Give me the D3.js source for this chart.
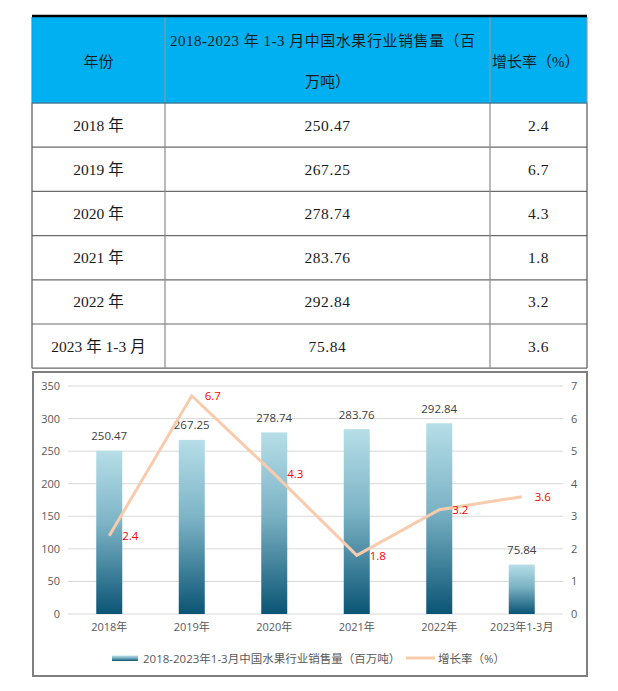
<!DOCTYPE html>
<html>
<head>
<meta charset="utf-8">
<script src="https://cdn.jsdelivr.net/npm/d3@7"></script>
<style>
  body { margin: 0; background: #fff; }
</style>
</head>
<body>
<div id="plot"></div>
<script>
// data
const tableYears = ["2018 年", "2019 年", "2020 年", "2021 年", "2022 年", "2023 年 1-3 月"];
const chartYears = ["2018年", "2019年", "2020年", "2021年", "2022年", "2023年1-3月"];
const sales = [250.47, 267.25, 278.74, 283.76, 292.84, 75.84];
const growth = [2.4, 6.7, 4.3, 1.8, 3.2, 3.6];
const salesTicks = [0, 50, 100, 150, 200, 250, 300, 350];
const growthTicks = [0, 1, 2, 3, 4, 5, 6, 7];
const headers = ["年份", "2018-2023 年 1-3 月中国水果行业销售量（百", "增长率（%）"];
const seriesNames = ["2018-2023年1-3月中国水果行业销售量（百万吨）", "增长率（%）"];

const w = 618;
const h = 691;
const serif = "'Liberation Serif', 'Noto Sans CJK SC', serif";
const sans = "'Open Sans', 'Noto Sans CJK SC', sans-serif";

const svg = d3.select("div#plot")
  .append("svg")
    .attr("width", w)
    .attr("height", h);

// ---------- table ----------
const colX = [32, 165, 490, 587];
const headTop = 17, headBottom = 103, rowH = 44.2;
const tableBottom = headBottom + rowH * tableYears.length;

const table = svg.append("g");

table.append("rect")
    .attr("x", colX[0])
    .attr("y", headTop)
    .attr("width", colX[3] - colX[0])
    .attr("height", headBottom - headTop)
    .attr("fill", "#00b0f0");

// rows
const rows = table.selectAll("g.row")
  .data(d3.range(tableYears.length))
  .join("g")
    .attr("class", "row")
    .attr("transform", i => `translate(0, ${headBottom + rowH * i})`);

rows.append("line")
    .attr("x1", colX[0]).attr("x2", colX[3])
    .attr("y1", rowH).attr("y2", rowH)
    .attr("stroke", "#6b6b6b")
    .attr("stroke-width", 1.2);

const cellText = [i => tableYears[i], i => sales[i].toFixed(2), i => growth[i].toFixed(1)];
cellText.forEach((f, c) => {
  rows.append("text")
      .attr("x", (colX[c] + colX[c + 1]) / 2)
      .attr("y", rowH / 2)
      .attr("text-anchor", "middle")
      .attr("dominant-baseline", "central")
      .attr("font-family", serif)
      .attr("font-size", 15.5)
      .attr("letter-spacing", c === 0 ? 0 : 0.6)
      .attr("fill", "#1a1a1a")
      .text(f);
});

// vertical lines
colX.forEach((x, c) => {
  table.append("line")
      .attr("x1", x).attr("x2", x)
      .attr("y1", headTop).attr("y2", headBottom)
      .attr("stroke", c === 0 ? "#00a6e6" : "#8a9aa3")
      .attr("stroke-width", 1.2);
  table.append("line")
      .attr("x1", x).attr("x2", x)
      .attr("y1", headBottom).attr("y2", tableBottom)
      .attr("stroke", c === 0 || c === 3 ? "#555" : "#8a8a8a")
      .attr("stroke-width", 1.2);
});

// header borders
table.append("line")
    .attr("x1", colX[0]).attr("x2", colX[3])
    .attr("y1", headTop - 1).attr("y2", headTop - 1)
    .attr("stroke", "#000")
    .attr("stroke-width", 2.5);
table.append("line")
    .attr("x1", colX[0]).attr("x2", colX[3])
    .attr("y1", headBottom).attr("y2", headBottom)
    .attr("stroke", "#3f7f9a")
    .attr("stroke-width", 1.5);

// header text
const headStyle = sel => sel
    .attr("font-family", serif)
    .attr("font-size", 15)
    .attr("fill", "#1a1a1a")
    .attr("dominant-baseline", "central");

table.append("text").call(headStyle)
    .attr("x", (colX[0] + colX[1]) / 2)
    .attr("y", 62)
    .attr("text-anchor", "middle")
    .text(headers[0]);
table.append("text").call(headStyle)
    .attr("x", 170)
    .attr("y", 41)
    .attr("textLength", 305)
    .text(headers[1]);
table.append("text").call(headStyle)
    .attr("x", (colX[1] + colX[2]) / 2)
    .attr("y", 82)
    .attr("text-anchor", "middle")
    .text("万吨）");
table.append("text").call(headStyle)
    .attr("x", 492)
    .attr("y", 62)
    .text(headers[2]);

// ---------- chart ----------
const chart = svg.append("g");

chart.append("rect")
    .attr("x", 33)
    .attr("y", 372)
    .attr("width", 554)
    .attr("height", 304)
    .attr("fill", "#fff")
    .attr("stroke", "#7f7f7f")
    .attr("stroke-width", 2);

const plot = {left: 68, right: 563, top: 386, bottom: 614};

const xScale = d3.scaleBand()
    .domain(d3.range(chartYears.length))
    .range([plot.left, plot.right]);

const yLeft = d3.scaleLinear()
    .domain([0, 350])
    .range([plot.bottom, plot.top]);

const yRight = d3.scaleLinear()
    .domain([0, 7])
    .range([plot.bottom, plot.top]);

const defs = svg.append("defs");
const grad = defs.append("linearGradient")
    .attr("id", "barGrad")
    .attr("x1", 0).attr("y1", 0)
    .attr("x2", 0).attr("y2", 1);
grad.append("stop").attr("offset", "0%").attr("stop-color", "#b6dee8");
grad.append("stop").attr("offset", "45%").attr("stop-color", "#7cb3c5");
grad.append("stop").attr("offset", "100%").attr("stop-color", "#0a5474");

// gridlines
chart.append("g")
  .selectAll("line")
  .data(salesTicks)
  .join("line")
    .attr("x1", plot.left)
    .attr("x2", plot.right)
    .attr("y1", d => yLeft(d))
    .attr("y2", d => yLeft(d))
    .attr("stroke", "#d9d9d9")
    .attr("stroke-width", 1);

const yAxisL = d3.axisLeft(yLeft).tickValues(salesTicks).tickSize(0).tickPadding(8);
const yAxisR = d3.axisRight(yRight).tickValues(growthTicks).tickFormat(d3.format("d")).tickSize(0).tickPadding(8);
const xAxis = d3.axisBottom(xScale).tickFormat(i => chartYears[i]).tickSize(0).tickPadding(9);

const styleAxis = g => {
  g.select(".domain").remove();
  g.selectAll("text")
      .attr("font-family", sans)
      .attr("font-size", 11)
      .attr("fill", "#595959");
};

chart.append("g")
    .attr("transform", `translate(${plot.left}, 0)`)
    .call(yAxisL)
    .call(styleAxis);

chart.append("g")
    .attr("transform", `translate(${plot.right}, 0)`)
    .call(yAxisR)
    .call(styleAxis);

chart.append("g")
    .attr("transform", `translate(0, ${plot.bottom})`)
    .call(xAxis)
    .call(styleAxis);

// bars
const barW = 26;
chart.append("g")
  .selectAll("rect")
  .data(sales)
  .join("rect")
    .attr("x", (d, i) => xScale(i) + xScale.bandwidth() / 2 - barW / 2)
    .attr("y", d => yLeft(d))
    .attr("width", barW)
    .attr("height", d => plot.bottom - yLeft(d))
    .attr("fill", "url(#barGrad)");

chart.append("g")
  .selectAll("text")
  .data(sales)
  .join("text")
    .attr("x", (d, i) => xScale(i) + xScale.bandwidth() / 2)
    .attr("y", d => yLeft(d) - 15)
    .attr("text-anchor", "middle")
    .attr("dominant-baseline", "central")
    .attr("font-family", sans)
    .attr("font-size", 11.5)
    .attr("fill", "#404040")
    .text(d => d.toFixed(2));

// growth line
const line = d3.line()
    .x((d, i) => xScale(i) + xScale.bandwidth() / 2)
    .y(d => yRight(d));

chart.append("path")
    .datum(growth)
    .attr("d", line)
    .attr("fill", "none")
    .attr("stroke", "#f8cbad")
    .attr("stroke-width", 3);

chart.append("g")
  .selectAll("text")
  .data(growth)
  .join("text")
    .attr("x", (d, i) => xScale(i) + xScale.bandwidth() / 2 + 13)
    .attr("y", d => yRight(d))
    .attr("dominant-baseline", "central")
    .attr("font-family", sans)
    .attr("font-size", 11.5)
    .attr("fill", "#ff0000")
    .text(d => d.toFixed(1));

// legend
const legend = chart.append("g");
legend.append("rect")
    .attr("x", 112)
    .attr("y", 655.5)
    .attr("width", 26)
    .attr("height", 5.5)
    .attr("fill", "url(#barGrad)");
legend.append("text")
    .attr("x", 143)
    .attr("y", 658)
    .attr("dominant-baseline", "central")
    .attr("font-family", sans)
    .attr("font-size", 11.5)
    .attr("fill", "#595959")
    .text(seriesNames[0]);
legend.append("line")
    .attr("x1", 406).attr("x2", 435)
    .attr("y1", 658).attr("y2", 658)
    .attr("stroke", "#f8cbad")
    .attr("stroke-width", 3);
legend.append("text")
    .attr("x", 438)
    .attr("y", 658)
    .attr("dominant-baseline", "central")
    .attr("font-family", sans)
    .attr("font-size", 11.5)
    .attr("fill", "#595959")
    .text(seriesNames[1]);
</script>
</body>
</html>
